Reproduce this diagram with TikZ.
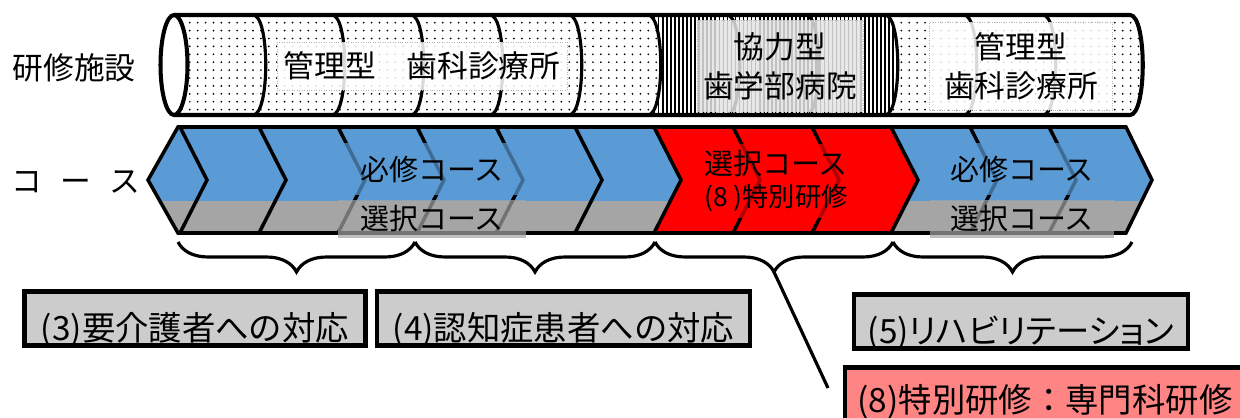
\documentclass[tikz,border=0pt]{standalone}
\usepackage{fontspec}
\setmainfont{Noto Sans CJK JP}
\newfontfamily\paltfont[RawFeature=+palt]{Noto Sans CJK JP}
\usepackage{tikz}
\usetikzlibrary{positioning,calc,patterns.meta,decorations.pathreplacing}
\definecolor{courseblue}{HTML}{5B9BD5}
\definecolor{coursegray}{HTML}{A5A5A5}
\definecolor{topicgray}{HTML}{CCCCCC}
\definecolor{topicred}{HTML}{FF8585}
\tikzset{
    x=0.02cm,
    y=-0.02cm,
    sidelabel/.style = {
        font=\fontsize{17.5}{21}\selectfont
    },
    tubeline/.style = {
        draw,
        line width=2.3pt
    },
    tubearc/.style = {
        draw,
        line width=1.8pt
    },
    sitebox/.style = {
        draw=gray!60,
        densely dotted,
        line width=0.4pt,
        fill=white,
        fill opacity=0.85,
        text opacity=1,
        align=center,
        inner sep=0pt,
        font=\fontsize{17.5}{22}\selectfont
    },
    chevline/.style = {
        draw,
        line width=2pt
    },
    coursetext/.style = {
        fill opacity=0.7,
        text opacity=1,
        inner sep=0pt,
        align=center,
        font=\fontsize{16.5}{18.5}\selectfont
    },
    grpbrace/.style = {
        draw,
        decorate,
        decoration={brace, amplitude=0.6cm},
        line width=1.8pt
    },
    topic/.style = {
        draw,
        line width=2.4pt,
        fill=topicgray,
        inner sep=0pt,
        minimum height=1.08cm,
        text height=0.9cm,
        text depth=0pt,
        font=\fontsize{19}{22}\selectfont
    },
}

\begin{document}
\begin{tikzpicture}
    \fill[white] (0,0) rectangle (1240,418);
    \useasboundingbox (0,0) rectangle (1240,418);

    % left labels
    \node[sidelabel] (facility) at (74,68) {研修施設};
    \node[sidelabel] (course) at (76,182) {コ\hspace{0.6em}ー\hspace{0.6em}ス};

    % tube of training sites
    \path[pattern={Dots[distance=4.5pt, radius=0.55pt]}] (174,15) -- (1130,15) .. controls (1147,15) and (1147,115) .. (1130,115) -- (174,115) -- cycle;
    \path[preaction={fill=white}, pattern={Lines[angle=90, distance=2.3pt, line width=0.9pt]}] (648,15) -- (885,15) .. controls (902,15) and (902,115) .. (885,115) -- (648,115) .. controls (665,115) and (665,15) .. (648,15);
    \foreach \b in {266,345,424,503,582,661,740,819,898,977,1056}
        \path[tubearc] (\b-13,15) .. controls (\b+4,15) and (\b+4,115) .. (\b-13,115);
    \path[tubeline] (174,15) -- (1130,15) .. controls (1147,15) and (1147,115) .. (1130,115) -- (174,115);
    \path[tubeline, fill=white] (174,65) ellipse [x radius=0.27cm, y radius=1cm];

    \node[sitebox, minimum width=5.8cm, minimum height=0.96cm] (kanriA) at (422,66) {管理型　歯科診療所};
    \node[sitebox, fill=gray!22, minimum width=3.32cm, minimum height=1.84cm] (kyoryoku) at (780,66) {協力型\\歯学部病院};
    \node[sitebox, minimum width=3.66cm, minimum height=1.76cm] (kanriB) at (1021,66) {管理型\\歯科診療所};

    % course band
    \begin{scope}
        \clip (148,180) -- (178,127) -- (1126,127) -- (1152,180) -- (1126,233) -- (178,233) -- cycle;
        \fill[courseblue] (140,120) rectangle (1160,201);
        \fill[coursegray] (140,201) rectangle (1160,240);
    \end{scope}
    \fill[red] (654,127) -- (891,127) -- (918,180) -- (891,233) -- (654,233) -- (681,180) -- cycle;
    \foreach \t in {180,259,...,1049}
        \path[chevline] (\t,127) -- (\t+27,180) -- (\t,233);
    \path[chevline] (148,180) -- (178,127) -- (1126,127) -- (1152,180) -- (1126,233) -- (178,233) -- cycle;

    \node[coursetext, fill=courseblue, minimum width=3.78cm, minimum height=1.06cm] (hissuA) at (432,169) {必修コース};
    \node[coursetext, fill=coursegray, minimum width=3.78cm, minimum height=0.78cm] (sentakuA) at (432,219) {選択コース};
    \node[coursetext, fill=red, minimum width=3.4cm, minimum height=1.48cm] (sentakuB) at (776,181) {選択コース\\{\fontsize{15}{18}\selectfont (8 )特別研修}};
    \node[coursetext, fill=courseblue, minimum width=3.7cm, minimum height=1.06cm] (hissuC) at (1022,169) {必修コース};
    \node[coursetext, fill=coursegray, minimum width=3.7cm, minimum height=0.78cm] (sentakuC) at (1022,219) {選択コース};

    % groups below the band
    \coordinate (g0) at (178,242);
    \coordinate (g1) at (415,242);
    \coordinate (g2) at (655,242);
    \coordinate (g3) at (893,242);
    \coordinate (g4) at (1132,242);
    \path[grpbrace] (g1) -- (g0);
    \path[grpbrace] (g2) -- (g1);
    \path[grpbrace] (g3) -- (g2);
    \path[grpbrace] (g4) -- (g3);

    % topics
    \node[topic, minimum width=6.82cm] (care) at (195,318.5) {(3)要介護者への対応};
    \node[topic, minimum width=7.46cm] (dementia) at (563.5,318.5) {(4)認知症患者への対応};
    \node[topic, minimum width=6.68cm] (rehab) at (1021,321.5) {\paltfont (5)リハビリテーション};
    \node[topic, fill=topicred, minimum width=8.0cm, text height=0.74cm] (special) at (1045,394.5) {(8)特別研修：専門科研修};

    \coordinate (gtip) at (774,272);
    \coordinate (gend) at (828,388);
    \path[draw, line width=1.8pt] (gtip) -- (gend);
\end{tikzpicture}
\end{document}
